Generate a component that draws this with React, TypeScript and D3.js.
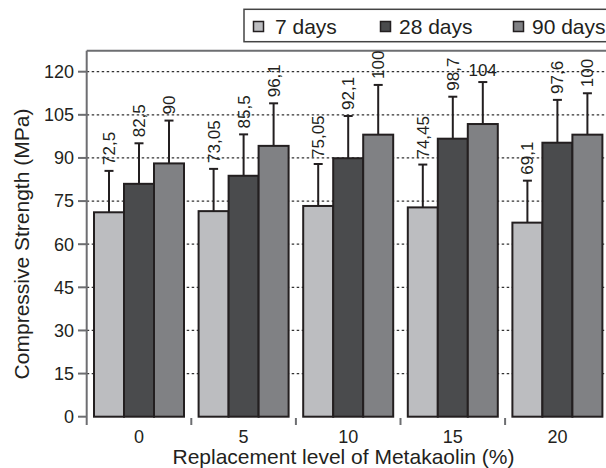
import React, { useEffect, useRef } from 'react';
import * as d3 from 'd3';

// chart data
const categories = ['0', '5', '10', '15', '20'];
const seriesNames = ['7 days', '28 days', '90 days'];
const seriesColors = ['#bcbdc0', '#4a4b4d', '#808184'];

const values7 = [71.1, 71.5, 73.3, 72.8, 67.5];
const values28 = [81.0, 83.8, 89.9, 96.7, 95.3];
const values90 = [88.1, 94.2, 98.1, 101.8, 98.1];

const errors7 = [14.4, 14.7, 14.6, 14.9, 14.6];
const errors28 = [14.1, 14.4, 14.7, 14.6, 14.9];
const errors90 = [14.9, 14.8, 17.3, 14.6, 14.4];

const labels7 = ['72,5', '73,05', '75,05', '74,45', '69,1'];
const labels28 = ['82,5', '85,5', '92,1', '98,7', '97,6'];
const labels90 = ['90', '96,1', '100', '104', '100'];

const yTicks = [0, 15, 30, 45, 60, 75, 90, 105, 120];

const FONT = '"Liberation Sans", Arial, Helvetica, sans-serif';
const INK = '#231f20';
const FRAME = '#6d6e71';

const App = () => {
  const svgRef = useRef<SVGSVGElement>(null);

  useEffect(() => {
    if (!svgRef.current) return;
    const width = 606;
    const height = 468;

    const svg = d3.select(svgRef.current);
    svg.selectAll('*').remove();
    svg.attr('width', width).attr('height', height);

    const left = 86.7;
    const right = 609.7;
    const top = 50.7;

    const x = d3.scaleBand().domain(categories).range([left, right]).padding(0);
    const bw = x.bandwidth();
    const inner = d3.scaleBand()
      .domain(seriesNames)
      .range([bw / 2 - 45, bw / 2 + 45])
      .padding(0);

    const y = d3.scaleLinear().domain([0, 120]).range([416.7, 71.7]);

    const rows = categories.map((c, i) => ({
      cat: c,
      items: [
        { s: seriesNames[0], v: values7[i], e: errors7[i], l: labels7[i], color: seriesColors[0] },
        { s: seriesNames[1], v: values28[i], e: errors28[i], l: labels28[i], color: seriesColors[1] },
        { s: seriesNames[2], v: values90[i], e: errors90[i], l: labels90[i], color: seriesColors[2] },
      ],
    }));

    // gridlines
    svg.append('g')
      .selectAll('line')
      .data(yTicks.filter(t => t > 0))
      .join('line')
      .attr('x1', left)
      .attr('x2', width)
      .attr('y1', d => y(d))
      .attr('y2', d => y(d))
      .attr('stroke', '#333')
      .attr('stroke-width', 1.3)
      .attr('stroke-dasharray', '2.5,2.5');

    // frame top
    svg.append('line')
      .attr('x1', left).attr('x2', right)
      .attr('y1', top).attr('y2', top)
      .attr('stroke', FRAME).attr('stroke-width', 2);

    // y axis
    svg.append('line')
      .attr('x1', left).attr('x2', left)
      .attr('y1', top).attr('y2', 425)
      .attr('stroke', FRAME).attr('stroke-width', 2);

    const yAxis = svg.append('g');
    yAxis.selectAll('line')
      .data(yTicks)
      .join('line')
      .attr('x1', 78).attr('x2', left)
      .attr('y1', d => y(d)).attr('y2', d => y(d))
      .attr('stroke', FRAME).attr('stroke-width', 2);
    yAxis.selectAll('text')
      .data(yTicks)
      .join('text')
      .attr('x', 74)
      .attr('y', d => y(d))
      .attr('dy', '0.35em')
      .attr('text-anchor', 'end')
      .style('font-family', FONT)
      .style('font-size', '18px')
      .style('fill', INK)
      .text(d => d);

    // x ticks at group boundaries
    svg.append('g')
      .selectAll('line')
      .data(categories.slice(1))
      .join('line')
      .attr('x1', d => x(d)!).attr('x2', d => x(d)!)
      .attr('y1', 418).attr('y2', 425)
      .attr('stroke', FRAME).attr('stroke-width', 2);

    svg.append('g')
      .selectAll('text')
      .data(categories)
      .join('text')
      .attr('x', d => x(d)! + bw / 2)
      .attr('y', 442.5)
      .attr('text-anchor', 'middle')
      .style('font-family', FONT)
      .style('font-size', '18px')
      .style('fill', INK)
      .text(d => d);

    // bars
    const groups = svg.append('g')
      .selectAll('g')
      .data(rows)
      .join('g')
      .attr('transform', d => `translate(${x(d.cat)},0)`);

    groups.selectAll('rect')
      .data(d => d.items)
      .join('rect')
      .attr('x', d => inner(d.s)!)
      .attr('y', d => y(d.v))
      .attr('width', inner.bandwidth())
      .attr('height', d => y(0) - y(d.v))
      .attr('fill', d => d.color)
      .attr('stroke', INK)
      .attr('stroke-width', 2);

    // error bars
    groups.selectAll('line.err')
      .data(d => d.items)
      .join('line')
      .attr('class', 'err')
      .attr('x1', d => inner(d.s)! + inner.bandwidth() / 2)
      .attr('x2', d => inner(d.s)! + inner.bandwidth() / 2)
      .attr('y1', d => y(d.v))
      .attr('y2', d => y(d.v + d.e))
      .attr('stroke', INK)
      .attr('stroke-width', 2);

    groups.selectAll('line.cap')
      .data(d => d.items)
      .join('line')
      .attr('class', 'cap')
      .attr('x1', d => inner(d.s)! + inner.bandwidth() / 2 - 4.5)
      .attr('x2', d => inner(d.s)! + inner.bandwidth() / 2 + 4.5)
      .attr('y1', d => y(d.v + d.e))
      .attr('y2', d => y(d.v + d.e))
      .attr('stroke', INK)
      .attr('stroke-width', 2);

    // value labels
    groups.selectAll('text')
      .data(d => d.items)
      .join('text')
      .attr('transform', d => {
        const cx = inner(d.s)! + inner.bandwidth() / 2;
        const cy = y(d.v + d.e) - 6;
        return d.l === '104' ? `translate(${cx},${cy})` : `translate(${cx},${cy}) rotate(-90)`;
      })
      .attr('dy', d => (d.l === '104' ? 0 : '0.35em'))
      .attr('text-anchor', d => (d.l === '104' ? 'middle' : 'start'))
      .style('font-family', FONT)
      .style('font-size', '17px')
      .style('fill', INK)
      .text(d => d.l);

    // axis titles
    svg.append('text')
      .attr('transform', 'translate(29,244) rotate(-90)')
      .attr('text-anchor', 'middle')
      .style('font-family', FONT)
      .style('font-size', '21px')
      .style('fill', INK)
      .text('Compressive Strength (MPa)');

    svg.append('text')
      .attr('x', 343.5)
      .attr('y', 464)
      .attr('text-anchor', 'middle')
      .style('font-family', FONT)
      .style('font-size', '21px')
      .style('fill', INK)
      .text('Replacement level of Metakaolin (%)');

    // legend
    const legend = svg.append('g');
    legend.append('rect')
      .attr('x', 244).attr('y', 9.3)
      .attr('width', 380).attr('height', 32.4)
      .attr('fill', '#fff')
      .attr('stroke', '#444')
      .attr('stroke-width', 1.5);
    const legendX = [253, 380, 513];
    const items = legend.selectAll('g.item')
      .data(seriesNames)
      .join('g')
      .attr('class', 'item')
      .attr('transform', (d, i) => `translate(${legendX[i]},0)`);
    items.append('rect')
      .attr('x', 0.5).attr('y', 21.5)
      .attr('width', 10).attr('height', 10)
      .attr('fill', (d, i) => seriesColors[i])
      .attr('stroke', INK)
      .attr('stroke-width', 1.5);
    items.append('text')
      .attr('x', (d, i) => (i === 0 ? 22 : 19))
      .attr('y', 33.5)
      .style('font-family', FONT)
      .style('font-size', '21px')
      .style('fill', INK)
      .text(d => d);
  }, []);

  return <svg ref={svgRef} style={{ position: 'absolute', left: 0, top: 0, display: 'block' }} />;
};

export default App;
